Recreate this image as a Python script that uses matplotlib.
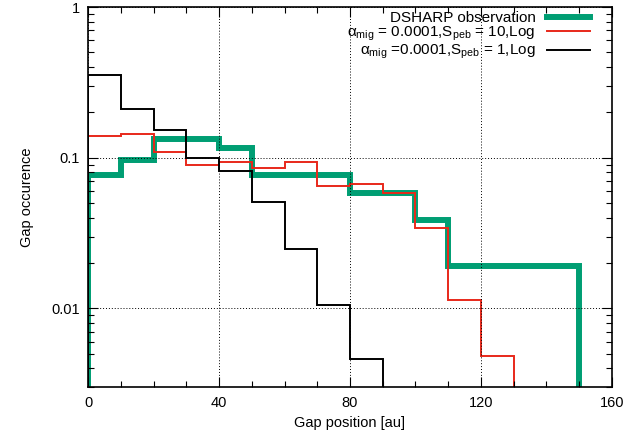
import matplotlib
matplotlib.use("Agg")
import matplotlib.pyplot as plt
import numpy as np
from matplotlib.ticker import FixedLocator, FixedFormatter, LogLocator, MultipleLocator, NullFormatter

# bin edges (au) and gap occurrence per 10 au bin
edges_obs = np.arange(0, 160, 10)
dsharp = [0.077, 0.096, 0.133, 0.133, 0.116, 0.077, 0.077, 0.077,
          0.058, 0.058, 0.0385, 0.0192, 0.0192, 0.0192, 0.0192]

edges_s10 = np.arange(0, 140, 10)
s10 = [0.140, 0.144, 0.109, 0.089, 0.093, 0.085, 0.093, 0.065,
       0.067, 0.058, 0.034, 0.0114, 0.0048]

edges_s1 = np.arange(0, 100, 10)
s1 = [0.354, 0.211, 0.152, 0.100, 0.082, 0.051, 0.0248, 0.0105, 0.0046]

plt.rcParams["font.family"] = ["Liberation Sans", "DejaVu Sans"]
plt.rcParams["mathtext.fontset"] = "custom"
plt.rcParams["mathtext.rm"] = "Liberation Sans"
plt.rcParams["mathtext.it"] = "Liberation Sans:italic"

fig = plt.figure(figsize=(6.25, 4.41), dpi=100)
ax = fig.add_axes([0.141, 0.122, 0.838, 0.862])

ax.stairs(dsharp, edges_obs, baseline=1e-5, color="#009e73", lw=4.3,
          label="DSHARP observation")
ax.stairs(s10, edges_s10, baseline=1e-5, color="#e8281a", lw=1.4,
          label=r"α$_{\rm mig}$ = 0.0001,S$_{\rm peb}$ = 10,Log")
ax.stairs(s1, edges_s1, baseline=1e-5, color="black", lw=1.4,
          label=r"α$_{\rm mig}$ =0.0001,S$_{\rm peb}$ = 1,Log")

ax.set_yscale("log")
ax.set_xlim(0, 160)
ax.set_ylim(0.003, 1)

ax.xaxis.set_major_locator(MultipleLocator(40))
ax.xaxis.set_minor_locator(MultipleLocator(10))
ax.yaxis.set_major_locator(FixedLocator([0.01, 0.1, 1]))
ax.yaxis.set_major_formatter(FixedFormatter(["0.01", "0.1", "1"]))
ax.yaxis.set_minor_locator(LogLocator(base=10, subs=np.arange(2, 10)))
ax.yaxis.set_minor_formatter(NullFormatter())

ax.tick_params(which="both", direction="in", top=True, right=True,
               labelsize=10.5, width=0.8)
ax.tick_params(which="major", length=7, pad=6)
ax.tick_params(which="minor", length=4)

ax.grid(True, which="major", color="black", linestyle=(0, (1, 2)), lw=0.7)

for s in ax.spines.values():
    s.set_linewidth(1.2)

ax.set_xlabel("Gap position [au]", fontsize=10.5, labelpad=5)
ax.set_ylabel("Gap occurence", fontsize=10.5, labelpad=12)

leg = ax.legend(loc="upper right", bbox_to_anchor=(0.958, 0.99),
                frameon=False, markerfirst=False, fontsize=11,
                handlelength=2.8, handletextpad=0.75, labelspacing=0.0,
                borderpad=0, borderaxespad=0)

fig.savefig("out.png", dpi=100)
